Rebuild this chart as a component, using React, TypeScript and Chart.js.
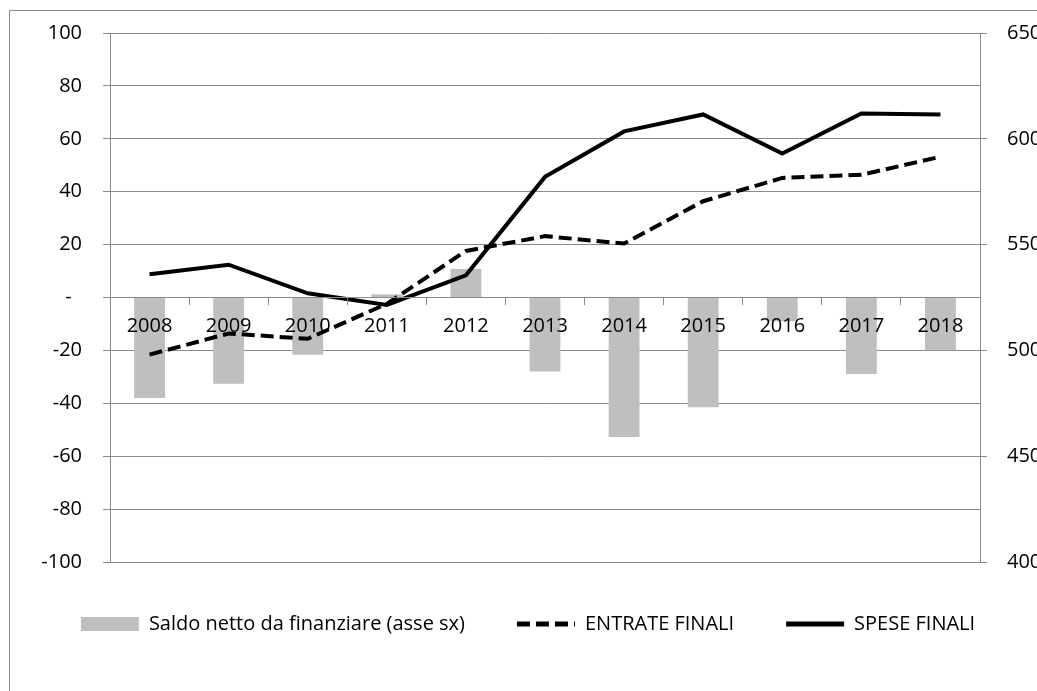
import React, { useEffect, useRef } from "react";
import { Chart, registerables } from "chart.js";

Chart.register(...registerables);

const years = ["2008", "2009", "2010", "2011", "2012", "2013", "2014", "2015", "2016", "2017", "2018"];
const saldoNetto = [-38, -32.6, -21.6, 1.2, 10.8, -28, -52.7, -41.5, -9, -28.9, -19.9];
const entrateFinali = [498, 508, 505.5, 522, 547, 554, 550.5, 570.5, 581.5, 583, 591.5];
const speseFinali = [536, 540.5, 527, 521.5, 535.5, 582, 603.5, 611.5, 593, 612, 611.5];
const leftRange = [-100, 100, 20];
const rightRange = [400, 650, 50];
const legendLabels = ["Saldo netto da finanziare (asse sx)", "ENTRATE FINALI", "SPESE FINALI"];

const FONT = "'Open Sans', 'Noto Sans', sans-serif";
const GRID = "#8a8a8a";
const FS = 20;

const frame = {
  id: "outerFrame",
  beforeDraw(chart: any) {
    const ctx = chart.ctx;
    ctx.save();
    ctx.strokeStyle = GRID;
    ctx.lineWidth = 1;
    ctx.beginPath();
    ctx.moveTo(9.5, chart.height);
    ctx.lineTo(9.5, 10.5);
    ctx.lineTo(chart.width, 10.5);
    ctx.stroke();
    ctx.restore();
  },
};

export default function App() {
  const ref = useRef<HTMLCanvasElement | null>(null);

  useEffect(() => {
    document.body.style.margin = "0";
    document.body.style.overflow = "hidden";
    const canvas = ref.current!;
    const chart = new Chart(canvas, {
      type: "bar",
      data: {
        labels: years,
        datasets: [
          {
            type: "bar",
            label: legendLabels[0],
            data: saldoNetto,
            backgroundColor: "#bfbfbf",
            borderWidth: 0,
            yAxisID: "y",
            barPercentage: 0.39,
            categoryPercentage: 1,
            order: 3,
            pointStyle: "rect",
          } as any,
          {
            type: "line",
            label: legendLabels[1],
            data: entrateFinali,
            borderColor: "#000",
            backgroundColor: "rgba(0,0,0,0)",
            borderWidth: 4,
            borderDash: [13, 6],
            pointRadius: 0,
            pointStyle: "line",
            tension: 0,
            yAxisID: "y1",
            order: 2,
          } as any,
          {
            type: "line",
            label: legendLabels[2],
            data: speseFinali,
            borderColor: "#000",
            backgroundColor: "rgba(0,0,0,0)",
            borderWidth: 4,
            pointRadius: 0,
            pointStyle: "line",
            tension: 0,
            yAxisID: "y1",
            order: 1,
          } as any,
        ],
      },
      options: {
        responsive: false,
        animation: false,
        events: [],
        layout: { padding: { top: 33, bottom: 47, left: 19, right: 0 } },
        plugins: {
          tooltip: { enabled: false },
          legend: {
            position: "bottom",
            labels: {
              usePointStyle: true,
              pointStyleWidth: 58,
              boxHeight: 14,
              padding: 52,
              color: "#000",
              font: { family: FONT, size: FS },
              generateLabels: (c: any) => {
                const items = Chart.defaults.plugins.legend.labels.generateLabels(c);
                items.forEach((it: any) => {
                  const ds: any = c.data.datasets[it.datasetIndex];
                  it.lineDash = ds.borderDash || [];
                  it.lineWidth = ds.type === "bar" ? 0 : 5;
                });
                return items.sort((a: any, b: any) => a.datasetIndex - b.datasetIndex);
              },
            },
          },
        },
        scales: {
          x: {
            type: "category",
            position: { y: 0 } as any,
            offset: true,
            grid: {
              display: true,
              offset: true,
              drawOnChartArea: false,
              drawTicks: true,
              tickLength: 7,
              color: GRID,
              z: 1,
            } as any,
            border: { display: true, color: GRID, width: 1, z: 1 } as any,
            ticks: { color: "#000", font: { family: FONT, size: FS }, padding: 10, maxRotation: 0, autoSkip: false, z: 1 } as any,
          },
          y: {
            position: "left",
            min: leftRange[0],
            max: leftRange[1],
            afterFit: (s: any) => { s.width = 91; },
            grid: { color: GRID, tickLength: 7, drawTicks: true },
            border: { display: true, color: GRID },
            ticks: {
              stepSize: leftRange[2],
              color: "#000",
              padding: 21,
              font: { family: FONT, size: FS },
              callback: (v: any) => (Number(v) === 0 ? "-  " : String(v)),
            },
          },
          y1: {
            position: "right",
            min: rightRange[0],
            max: rightRange[1],
            afterFit: (s: any) => { s.width = 57; },
            grid: { drawOnChartArea: false, tickLength: 7, drawTicks: true, color: GRID },
            border: { display: true, color: GRID },
            ticks: {
              stepSize: rightRange[2],
              color: "#000",
              padding: 20,
              font: { family: FONT, size: FS },
            },
          },
        },
      },
      plugins: [frame],
    });
    return () => chart.destroy();
  }, []);

  return (
    <div style={{ width: 1037, height: 691, position: "relative" }}>
      <canvas ref={ref} width={1037} height={691} style={{ width: 1037, height: 691, display: "block" }} />
    </div>
  );
}
